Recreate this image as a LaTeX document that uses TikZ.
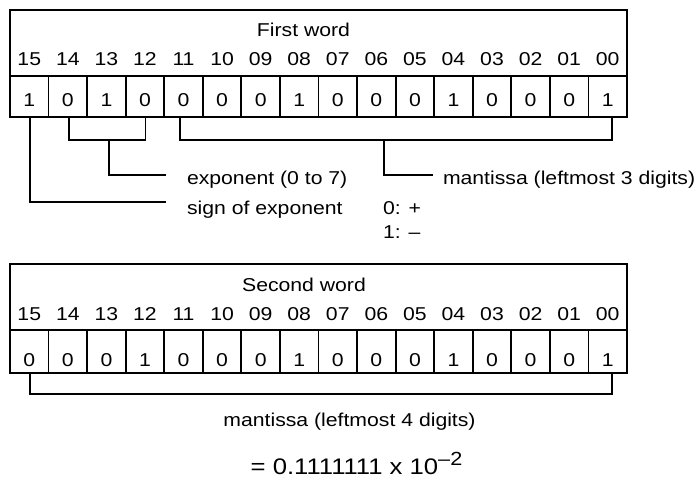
\documentclass[tikz,border=0pt]{standalone}
\usepackage{fontspec}
\setmainfont[FakeStretch=1.14]{Liberation Sans}
\begin{document}
\begin{tikzpicture}[x=1pt,y=-1pt,
  every node/.style={inner sep=0pt, outer sep=0pt},
  font=\fontsize{18.6}{22}\selectfont,
  frame/.style={draw, line width=1.8pt},
  cell/.style={frame, minimum width=38.5625pt},
  conn/.style={line width=1.8pt},
  lbl/.style={anchor=base west},
  ctr/.style={anchor=base}]
\useasboundingbox (0,0) rectangle (698,485);

% ---------- First word ----------
\node[frame, minimum width=617pt, minimum height=66pt] (h1) at (318.5,43) {};
\foreach \i in {0,...,15} {
  \node[cell, minimum height=41pt] (a\i) at ({10+(\i+0.5)*38.5625},96.5) {};
}
\node[ctr] (t1) at (303.5,36.7) {First word};
\foreach \b [count=\i from 0] in {15,14,13,12,11,10,09,08,07,06,05,04,03,02,01,00} {
  \node[ctr] (n1\i) at ({10+(\i+0.5)*38.5625},65.7) {\b};
}
\foreach \v [count=\i from 0] in {1,0,1,0,0,0,0,1,0,0,0,1,0,0,0,1} {
  \node[ctr] (v1\i) at ({10+(\i+0.5)*38.5625},106) {\v};
}

% connectors first word
\coordinate (e1) at (109,140);
\coordinate (eend) at (166,175);
\coordinate (send) at (166,202);
\coordinate (m1) at (384,140);
\coordinate (mend) at (433,175);
\draw[conn] ([xshift=1.5pt]a1.south) |- (e1) -| ([xshift=0.5pt]a3.south);
\draw[conn] (e1) |- (eend);
\draw[conn] ([xshift=0.7pt]a0.south) |- (send);
\draw[conn] ([xshift=-3.5pt]a4.south) |- (m1) -| ([xshift=4.5pt]a15.south);
\draw[conn] (m1) |- (mend);

\node[lbl] (lexp) at (187,184) {exponent (0 to 7)};
\node[lbl] (lman) at (443,184) {mantissa (leftmost 3 digits)};
\node[lbl] (lsgn) at (187,214) {sign of exponent};
\node[lbl] (lp) at (383,214) {0: +};
\node[lbl] (lm) at (383,238) {1: –};

% ---------- Second word ----------
\node[frame, minimum width=617pt, minimum height=66pt] (h2) at (318.5,297) {};
\foreach \i in {0,...,15} {
  \node[cell, minimum height=43pt] (d\i) at ({10+(\i+0.5)*38.5625},351.5) {};
}
\node[ctr] (t2) at (304,291.7) {Second word};
\foreach \b [count=\i from 0] in {15,14,13,12,11,10,09,08,07,06,05,04,03,02,01,00} {
  \node[ctr] (n2\i) at ({10+(\i+0.5)*38.5625},320) {\b};
}
\foreach \v [count=\i from 0] in {0,0,0,1,0,0,0,1,0,0,0,1,0,0,0,1} {
  \node[ctr] (v2\i) at ({10+(\i+0.5)*38.5625},366.7) {\v};
}
\draw[conn] ([xshift=1pt]d0.south) -- ++(0,21) -| ([xshift=4.3pt]d15.south);

\node[ctr] (lman2) at (349.5,426.7) {mantissa (leftmost 4 digits)};
\node[ctr, font=\fontsize{22.5}{26}\selectfont] (res) at (356.5,474) {= 0.1111111 x 10\raisebox{8.5pt}{\fontsize{19}{22}\selectfont –2}};
\end{tikzpicture}
\end{document}
